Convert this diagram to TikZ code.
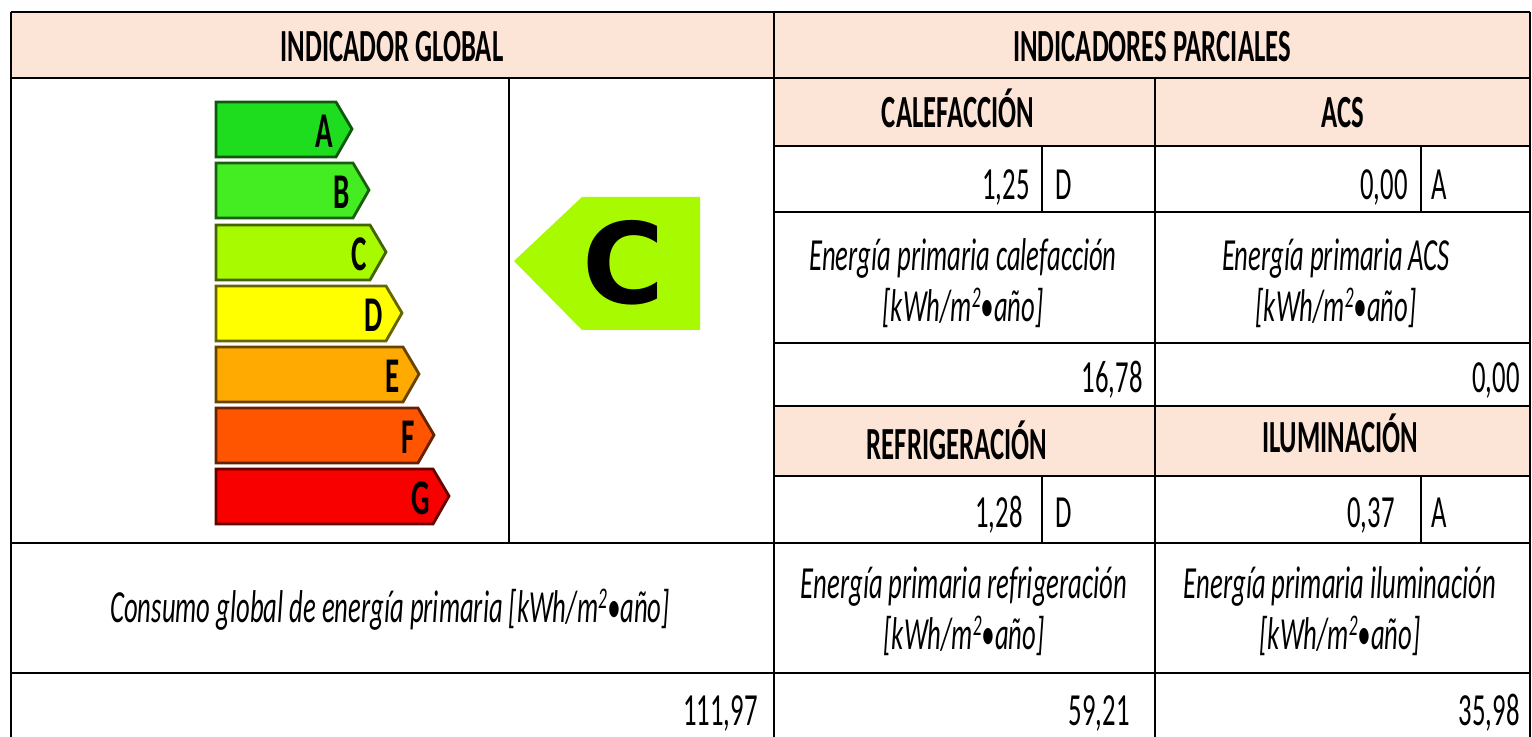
\documentclass[tikz,border=0pt]{standalone}
\usepackage{fontspec}
\setmainfont{Carlito}[FakeStretch=0.58]
\newfontfamily\gordafont{DejaVu Sans}

\definecolor{cabecera}{HTML}{FCE4D6}
\definecolor{claseA}{HTML}{1EDC1E}
\definecolor{claseB}{HTML}{44EC22}
\definecolor{claseC}{HTML}{A8FA00}
\definecolor{claseD}{HTML}{FFFF00}
\definecolor{claseE}{HTML}{FFAA00}
\definecolor{claseF}{HTML}{FF5500}
\definecolor{claseG}{HTML}{F80000}

\newcommand{\unidad}{[kWh/m\raisebox{0.62ex}{\fontsize{15}{15}\selectfont 2}•año]}

\tikzset{
	txt/.style={inner sep=0pt,font=\fontsize{23}{27}\selectfont},
	tit/.style={inner sep=0pt,font=\fontsize{23}{27}\selectfont\bfseries},
	eti/.style={inner sep=0pt,align=center,font=\fontsize{23}{25.5}\selectfont\itshape},
	rejilla/.style={line width=1.2pt,black},
	vrejilla/.style={line width=0.9pt,black},
	barra/.style={line width=1.4pt,line join=miter},
	letra/.style={inner sep=0pt,font=\fontsize{25}{28}\selectfont\bfseries}
}

\begin{document}
\begin{tikzpicture}[x=0.5pt,y=-0.5pt]
			\useasboundingbox (0,0) rectangle (1532,737);

			% cabeceras
			\fill[cabecera] (11,12) rectangle (1530,78);
			\fill[cabecera] (774,78) rectangle (1530,146);
			\fill[cabecera] (774,406) rectangle (1530,476);

			% escala de clases
			\foreach \l/\c/\t/\r in {A/claseA/102/336,B/claseB/163/353,C/claseC/225/370,D/claseD/286/386,E/claseE/347/403,F/claseF/408/418,G/claseG/469/433}{
				\draw[barra,fill=\c,draw=\c!40!black] (216,\t) -- (\r,\t) -- ({\r+16},{\t+27}) -- (\r,{\t+55}) -- (216,{\t+55}) -- cycle;
				\node[letra,anchor=east] (barra\l) at ({\r-3},{\t+29}) {\l};
			}

			\fill[claseC] (514,261) -- (582,197) -- (700,197) -- (700,330) -- (582,330) -- cycle;
			\node[inner sep=0pt,font=\gordafont\bfseries\fontsize{56}{60}\selectfont] (claseglobal) at (624,263) {C};

			% rejilla
			\foreach \y in {12,78,543,673}
			\draw[rejilla] (11,\y) -- (1530,\y);
			\foreach \y in {146,212,343,406,476}
			\draw[rejilla] (774,\y) -- (1530,\y);
			\draw[vrejilla] (11,12) -- (11,737);
			\draw[vrejilla] (774,12) -- (774,737);
			\draw[vrejilla] (1530,12) -- (1530,737);
			\draw[vrejilla] (509,78) -- (509,543);
			\draw[vrejilla] (1155,78) -- (1155,737);
			\draw[vrejilla] (1042,146) -- (1042,212);
			\draw[vrejilla] (1421,146) -- (1421,212);
			\draw[vrejilla] (1042,476) -- (1042,543);
			\draw[vrejilla] (1421,476) -- (1421,543);

			\node[tit,anchor=base] (global) at (392,62) {INDICADOR GLOBAL};
			\node[tit,anchor=base] (parcial) at (1152,62) {INDICADORES PARCIALES};

			\node[tit,anchor=base] (calef) at (958,128) {CALEFACCIÓN};
			\node[tit,anchor=base] (acs) at (1343,128) {ACS};
			\node[txt,anchor=base east] (vcalef) at (1030,200) {1,25};
			\node[txt,anchor=base west] (lcalef) at (1055,200) {D};
			\node[txt,anchor=base east] (vacs) at (1408,200) {0,00};
			\node[txt,anchor=base west] (lacs) at (1431,200) {A};
			\node[eti] (ecalef) at (963,283) {Energía primaria calefacción\\\unidad};
			\node[eti] (eacs) at (1336,283) {Energía primaria ACS\\\unidad};
			\node[txt,anchor=base east] (pcalef) at (1143,393) {16,78};
			\node[txt,anchor=base east] (pacs) at (1520,393) {0,00};

			\node[tit,anchor=base] (refri) at (957,460) {REFRIGERACIÓN};
			\node[tit,anchor=base] (ilum) at (1340,453) {ILUMINACIÓN};
			\node[txt,anchor=base east] (vrefri) at (1023,528) {1,28};
			\node[txt,anchor=base west] (lrefri) at (1055,528) {D};
			\node[txt,anchor=base east] (vilum) at (1395,528) {0,37};
			\node[txt,anchor=base west] (lilum) at (1431,528) {A};
			\node[eti] (erefri) at (964,611) {Energía primaria refrigeración\\\unidad};
			\node[eti] (eilum) at (1340,611) {Energía primaria iluminación\\\unidad};
			\node[txt,anchor=base east] (prefri) at (1130,725) {59,21};
			\node[txt,anchor=base east] (pilum) at (1520,725) {35,98};

			\node[eti,anchor=base] (consumo) at (390,622) {Consumo global de energía primaria \unidad};
			\node[txt,anchor=base east] (pglobal) at (758,725) {111,97};
		\end{tikzpicture}
\end{document}
